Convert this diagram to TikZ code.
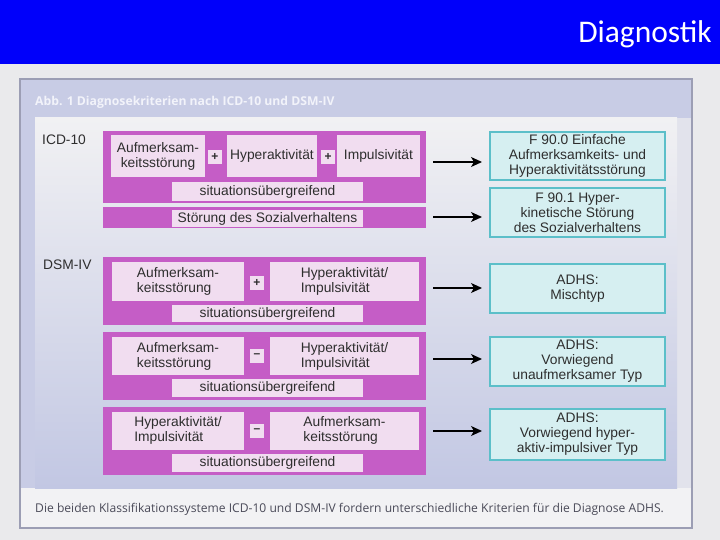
\documentclass[tikz,border=0pt]{standalone}
\usepackage{fontspec}
\setmainfont{Liberation Sans}
\newfontfamily\capfont{Open Sans}
\newfontfamily\headfont{Carlito}
\usetikzlibrary{arrows.meta}
\definecolor{bluebar}{HTML}{0000FA}
\definecolor{bgc}{HTML}{EAEAEC}
\definecolor{lav}{HTML}{C8CCE5}
\definecolor{lightstrip}{HTML}{E2E3EC}
\definecolor{capstrip}{HTML}{F2F2F4}
\definecolor{framec}{HTML}{9C9EB4}
\definecolor{paneltop}{HTML}{F1F1F3}
\definecolor{panelbot}{HTML}{C2C7E3}
\definecolor{mag}{HTML}{C55DC6}
\definecolor{pinkbox}{HTML}{F1DDF0}
\definecolor{cyanfill}{HTML}{D6EFF1}
\definecolor{cyanline}{HTML}{5CBFC9}
\definecolor{txt}{HTML}{2E2E2E}
\definecolor{titletxt}{HTML}{F2F3FA}
\definecolor{captxt}{HTML}{4A4A58}
\tikzset{
  sz/.style 2 args={minimum width=#1pt, minimum height=#2pt},
  magblock/.style={fill=mag, inner sep=0pt},
  pbox/.style={fill=pinkbox, inner sep=0pt, text=txt, font=\fontsize{13.8}{15}\selectfont},
  sign/.style={fill=pinkbox, inner sep=0pt, text=txt, font=\fontsize{12}{12}\selectfont\bfseries, minimum width=14pt, minimum height=14pt},
  cbox/.style={fill=cyanfill, draw=cyanline, line width=2pt, inner sep=0pt, text=txt, align=center, font=\fontsize{13.8}{15}\selectfont, minimum width=175pt},
  lbl/.style={text=txt, inner sep=0pt, font=\fontsize{13.8}{15}\selectfont},
  arr/.style={line width=1.4pt, -{Stealth[length=11pt,width=10pt,inset=3pt]}, shorten <=7pt, shorten >=7pt}
}
\begin{document}
\begin{tikzpicture}[x=1pt,y=-1pt]
\useasboundingbox (0,0) rectangle (720,540);
% background
\fill[bgc] (0,0) rectangle (720,540);
\fill[bluebar] (0,0) rectangle (720,64);
\node[anchor=base east, text=white, inner sep=0pt, font=\headfont\fontsize{31.5}{31.5}\selectfont] (head) at (712,43) {Diagnostik};
% frame
\fill[lav] (20,79) rectangle (692,528);
\fill[lightstrip] (677,118) rectangle (692,488);
\fill[capstrip] (20,488) rectangle (692,528);
\shade[top color=paneltop, bottom color=panelbot] (35,118) rectangle (677,488);
\draw[framec, line width=1.5pt] (20,79) rectangle (692,528);
\node[anchor=base west, inner sep=0pt, text=titletxt, font=\capfont\bfseries\fontsize{12.2}{12}\selectfont] (title) at (35,106) {Abb. 1 Diagnosekriterien nach ICD-10 und DSM-IV};
\node[anchor=base west, inner sep=0pt, text=captxt, font=\capfont\fontsize{12.1}{12}\selectfont] (caption) at (35,512) {Die beiden Klassifikationssysteme ICD-10 und DSM-IV fordern unterschiedliche Kriterien für die Diagnose ADHS.};
% labels
\node[lbl, anchor=base west] (icd) at (42,145) {ICD-10};
\node[lbl, anchor=base west] (dsm) at (43,269.5) {DSM-IV};
% ICD-10 block
\node[magblock, sz={323}{72}] (M1) at (264.5,167) {};
\node[pbox, sz={94}{42}, align=center] (A1) at (158,156) {Aufmerksam-\\keitsstörung};
\node[sign] (P1) at (215,157) {+};
\node[pbox, sz={90}{42}] (H1) at (272,156) {Hyperaktivität};
\node[sign] (P2) at (328,157) {+};
\node[pbox, sz={83}{42}] (I1) at (378.5,156) {Impulsivität};
\node[pbox, sz={191}{19}] (S1) at (267.5,191.5) {situationsübergreifend};
\node[magblock, sz={323}{21}] (M2) at (264.5,217.5) {};
\node[pbox, sz={191}{17}] (St) at (267.5,218.5) {Störung des Sozialverhaltens};
\node[cbox, minimum height=48pt] (C1) at (577.5,156) {F 90.0 Einfache\\Aufmerksamkeits- und\\Hyperaktivitätsstörung};
\node[cbox, minimum height=49pt] (C2) at (577.5,212.5) {F 90.1 Hyper-\\kinetische Störung\\des Sozialverhaltens};
\coordinate (y1) at (0,162);
\coordinate (y2) at (0,217);
\draw[arr] (M1.east |- y1) -- (C1.west |- y1);
\draw[arr] (M2.east |- y2) -- (C2.west |- y2);
% DSM-IV block 1
\node[magblock, sz={323}{68}] (M3) at (264.5,291) {};
\node[pbox, sz={132}{39}, align=left] (A3) at (178,281.5) {Aufmerksam-\\keitsstörung};
\node[sign] (P3) at (257,283) {+};
\node[pbox, sz={149}{39}, align=left] (H3) at (344.5,281.5) {Hyperaktivität/\\Impulsivität};
\node[pbox, sz={191}{17}] (S3) at (267.5,313.5) {situationsübergreifend};
\node[cbox, minimum height=49pt] (C3) at (577.5,288.5) {ADHS:\\Mischtyp};
\coordinate (y3) at (0,288);
\draw[arr] (M3.east |- y3) -- (C3.west |- y3);
% DSM-IV block 2
\node[magblock, sz={323}{68}] (M4) at (264.5,366) {};
\node[pbox, sz={132}{38}, align=left] (A4) at (178,356) {Aufmerksam-\\keitsstörung};
\node[sign] (P4) at (257,356) {--};
\node[pbox, sz={149}{38}, align=left] (H4) at (344.5,356) {Hyperaktivität/\\Impulsivität};
\node[pbox, sz={191}{18}] (S4) at (267.5,388) {situationsübergreifend};
\node[cbox, minimum height=49pt] (C4) at (577.5,361.5) {ADHS:\\Vorwiegend\\unaufmerksamer Typ};
\coordinate (y4) at (0,359);
\draw[arr] (M4.east |- y4) -- (C4.west |- y4);
% DSM-IV block 3
\node[magblock, sz={323}{68}] (M5) at (264.5,441) {};
\node[pbox, sz={132}{38}, align=left] (A5) at (178,430.5) {Hyperaktivität/\\Impulsivität};
\node[sign] (P5) at (257,430.5) {--};
\node[pbox, sz={149}{38}, align=left] (H5) at (344.5,430.5) {Aufmerksam-\\keitsstörung};
\node[pbox, sz={191}{18}] (S5) at (267.5,462.5) {situationsübergreifend};
\node[cbox, minimum height=51pt] (C5) at (577.5,434.5) {ADHS:\\Vorwiegend hyper-\\aktiv-impulsiver Typ};
\coordinate (y5) at (0,431);
\draw[arr] (M5.east |- y5) -- (C5.west |- y5);
\end{tikzpicture}
\end{document}
